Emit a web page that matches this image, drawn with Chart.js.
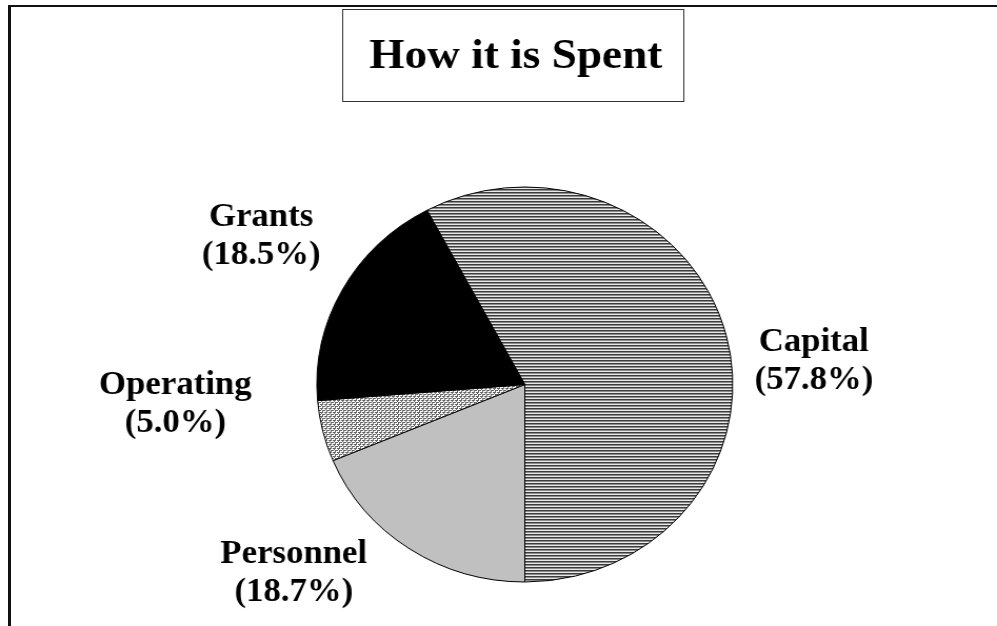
<!DOCTYPE html>
<html lang="en">
<head>
<meta charset="UTF-8">
<title>How it is Spent</title>
<style>
  html, body { margin: 0; padding: 0; background: #fff; }
  body { width: 997px; height: 626px; position: relative; overflow: hidden; }
  /* page frame: heavy rule on top and left only */
  .frame {
    position: absolute; left: 8px; top: 5px; right: 0; bottom: 0;
    border-left: 3px solid #111; border-top: 2px solid #111;
  }
  /* the chart is drawn round, then widened a little */
  .wrap {
    position: absolute; left: 0; top: 0; width: 947px; height: 626px;
    transform: scaleX(1.0528); transform-origin: 0 0;
  }
</style>
</head>
<body>
<div class="frame"></div>
<div class="wrap"><canvas id="spent" width="947" height="626"></canvas></div>

<script src="https://cdn.jsdelivr.net/npm/chart.js@4/dist/chart.umd.min.js"></script>
<script>
// share of spending, percent (clockwise from Capital)
var categories = ['Capital', 'Personnel', 'Operating', 'Grants'];
var shares = [57.8, 18.7, 5.0, 18.5];
var chartTitle = 'How it is Spent';

var serif = '"Liberation Serif", "Times New Roman", serif';

// fine horizontal hatching
function stripePattern() {
  var c = document.createElement('canvas');
  c.width = 1; c.height = 3;
  var g = c.getContext('2d');
  g.fillStyle = '#3c3c3c'; g.fillRect(0, 0, 1, 1);
  g.fillStyle = '#8c8c8c'; g.fillRect(0, 1, 1, 1);
  g.fillStyle = '#e8e8e8'; g.fillRect(0, 2, 1, 1);
  return g.createPattern(c, 'repeat');
}

// small weave texture
function weavePattern() {
  var rows = ['GGGW', 'WGWW', 'GWGG', 'WWGW'];
  var c = document.createElement('canvas');
  c.width = 4; c.height = 4;
  var g = c.getContext('2d');
  rows.forEach(function(r, y) {
    for (var x = 0; x < 4; x++) {
      g.fillStyle = r[x] === 'G' ? '#666666' : '#ffffff';
      g.fillRect(x, y, 1, 1);
    }
  });
  return g.createPattern(c, 'repeat');
}

var fills = [stripePattern(), '#c0c0c0', weavePattern(), '#000000'];

// label offsets from the pie centre
var labelOffsets = [[274.5, -33.5], [-219.5, 178.5], [-332, 9.5], [-250.5, -158.5]];

var annotate = {
  id: 'annotate',
  afterDraw: function(chart) {
    var ctx = chart.ctx;
    ctx.save();

    // boxed title
    ctx.strokeStyle = '#333';
    ctx.lineWidth = 1;
    ctx.strokeRect(325.5, 9.5, 324, 92);
    ctx.fillStyle = '#000';
    ctx.font = 'bold 43px ' + serif;
    ctx.textAlign = 'center';
    ctx.textBaseline = 'alphabetic';
    ctx.fillText(chartTitle, 490, 68);

    // slice labels
    var arc = chart.getDatasetMeta(0).data[0];
    ctx.font = 'bold 33px ' + serif;
    categories.forEach(function(name, i) {
      var x = arc.x + labelOffsets[i][0];
      var y = arc.y + labelOffsets[i][1];
      ctx.fillText(name, x, y);
      ctx.fillText('(' + shares[i].toFixed(1) + '%)', x, y + 38);
    });
    ctx.restore();
  }
};

new Chart(document.getElementById('spent'), {
  type: 'pie',
  data: {
    labels: categories,
    datasets: [{
      data: shares,
      backgroundColor: fills,
      borderColor: '#000',
      borderWidth: 1
    }]
  },
  options: {
    responsive: false,
    animation: false,
    events: [],
    rotation: -(shares[0] - 50) * 3.6,
    layout: { padding: { left: 300.5, right: 250.5, top: 186.5, bottom: 43.5 } },
    plugins: {
      legend: { display: false },
      tooltip: { enabled: false },
      title: { display: false }
    }
  },
  plugins: [annotate]
});
</script>
</body>
</html>
